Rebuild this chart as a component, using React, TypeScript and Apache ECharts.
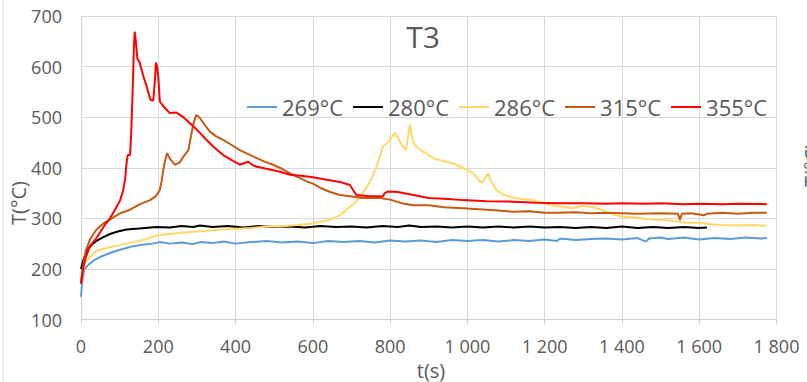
import React, { useEffect, useRef } from "react";
import * as echarts from "echarts";

const seriesNames = ["269°C", "280°C", "286°C", "315°C", "355°C"];
const seriesColors = ["#5b9bd5", "#000000", "#ffd966", "#c55a11", "#ff0000"];

const xTicks = [0, 200, 400, 600, 800, 1000, 1200, 1400, 1600, 1800];
const yTicks = [100, 200, 300, 400, 500, 600, 700];

const s269: number[][] = [
  [0, 145], [3, 175], [8, 198], [15, 205], [22, 210], [35, 218], [48, 223], [70, 230], [92, 236],
  [115, 241], [135, 245], [160, 248], [185, 250], [204, 253], [230, 250], [260, 252], [290, 249],
  [308, 253], [340, 251], [370, 254], [400, 250], [440, 253], [480, 255], [520, 252], [560, 254],
  [600, 251], [640, 255], [680, 253], [720, 255], [760, 252], [800, 256], [840, 254], [880, 256],
  [920, 253], [960, 257], [1000, 255], [1040, 257], [1080, 254], [1120, 257], [1160, 255],
  [1200, 258], [1232, 255], [1240, 260], [1280, 257], [1320, 259], [1360, 260], [1400, 258],
  [1440, 261], [1462, 254], [1470, 260], [1500, 262], [1520, 259], [1560, 262], [1600, 258],
  [1640, 261], [1680, 259], [1720, 262], [1760, 260], [1775, 261],
];

const s280: number[][] = [
  [0, 200], [5, 215], [15, 236], [28, 248], [41, 256], [58, 263], [75, 269], [95, 274], [118, 278],
  [150, 280], [196, 283], [230, 282], [260, 285], [290, 283], [308, 286], [340, 283], [380, 285],
  [420, 282], [460, 285], [500, 283], [540, 284], [580, 282], [620, 285], [660, 283], [700, 284],
  [740, 282], [780, 285], [820, 283], [850, 286], [880, 283], [920, 284], [960, 282], [1000, 284],
  [1040, 282], [1080, 284], [1120, 282], [1160, 284], [1200, 282], [1240, 283], [1280, 281],
  [1320, 283], [1360, 281], [1400, 284], [1440, 281], [1480, 283], [1520, 281], [1560, 283],
  [1600, 281], [1620, 282],
];

const s286: number[][] = [
  [0, 179], [5, 200], [10, 212], [19, 220], [30, 229], [41, 236], [58, 240], [75, 243], [100, 247],
  [135, 253], [165, 258], [196, 266], [230, 269], [265, 272], [300, 274], [350, 277], [394, 279],
  [440, 281], [480, 284], [515, 284], [560, 287], [600, 290], [644, 297], [670, 306], [687, 317],
  [710, 332], [730, 350], [750, 375], [765, 402], [775, 425], [781, 442], [790, 448], [800, 455],
  [812, 469], [820, 460], [830, 445], [841, 435], [846, 460], [851, 485], [856, 465], [860, 449],
  [870, 440], [885, 432], [895, 428], [911, 419], [930, 415], [946, 412], [965, 408], [981, 402],
  [1000, 396], [1015, 389], [1025, 380], [1037, 370], [1046, 380], [1054, 389], [1060, 375],
  [1075, 356], [1095, 346], [1118, 341], [1140, 338], [1170, 336], [1188, 333], [1213, 326],
  [1240, 324], [1273, 320], [1300, 325], [1325, 322], [1345, 318], [1360, 312], [1399, 303],
  [1430, 302], [1460, 299], [1490, 297], [1520, 296], [1558, 292], [1600, 291], [1640, 288],
  [1661, 287], [1700, 286], [1740, 287], [1774, 285],
];

const s315: number[][] = [
  [0, 170], [5, 205], [12, 235], [23, 258], [40, 278], [58, 290], [80, 300], [101, 310], [127, 317],
  [153, 328], [179, 336], [195, 345], [204, 356], [209, 375], [213, 396], [218, 415], [223, 429],
  [230, 418], [243, 406], [255, 410], [265, 422], [278, 435], [286, 468], [292, 490], [298, 504],
  [303, 502], [308, 498], [320, 485], [334, 471], [350, 462], [368, 455], [390, 445], [411, 435],
  [430, 428], [455, 419], [475, 412], [497, 406], [520, 398], [541, 389], [560, 382], [584, 373],
  [601, 368], [620, 360], [645, 352], [670, 346], [700, 343], [730, 340], [774, 340], [800, 337],
  [830, 330], [860, 326], [900, 326], [940, 322], [989, 320], [1030, 318], [1070, 316], [1118, 313],
  [1160, 314], [1200, 311], [1231, 311], [1280, 312], [1320, 310], [1360, 311], [1400, 310],
  [1440, 309], [1500, 310], [1545, 309], [1550, 297], [1555, 309], [1580, 310], [1612, 306],
  [1620, 309], [1660, 311], [1700, 309], [1740, 311], [1775, 311],
];

const s355: number[][] = [
  [0, 172], [5, 200], [12, 222], [23, 245], [41, 262], [60, 285], [75, 300], [88, 317], [101, 335],
  [109, 355], [114, 376], [118, 410], [121, 425], [127, 425], [130, 470], [134, 560], [137, 640],
  [139, 669], [142, 650], [146, 615], [151, 610], [160, 585], [170, 560], [180, 534], [187, 533],
  [191, 570], [194, 608], [197, 600], [200, 580], [204, 531], [215, 520], [230, 508], [247, 509],
  [265, 500], [282, 488], [300, 475], [325, 455], [345, 440], [368, 425], [390, 415], [411, 406],
  [425, 410], [433, 412], [445, 405], [455, 402], [480, 398], [515, 392], [541, 386], [570, 384],
  [600, 381], [640, 376], [670, 372], [696, 366], [705, 355], [713, 346], [740, 344], [781, 343],
  [786, 350], [794, 353], [820, 352], [860, 346], [900, 340], [950, 338], [989, 336], [1050, 334],
  [1118, 333], [1180, 331], [1231, 330], [1300, 330], [1360, 329], [1400, 330], [1460, 329],
  [1500, 330], [1560, 328], [1600, 329], [1660, 328], [1700, 329], [1775, 328],
];

const seriesData = [s269, s280, s286, s315, s355];

const FONT = "Open Sans";
const GRAY = "#595959";
const GRID = "#d9d9d9";

function fmtThousands(v: number): string {
  const s = String(Math.round(v));
  return s.replace(/\B(?=(\d{3})+(?!\d))/g, " ");
}

export default function App() {
  const ref = useRef<HTMLDivElement>(null);
  useEffect(() => {
    if (!ref.current) return;
    const chart = echarts.init(ref.current, undefined, { renderer: "svg" });
    chart.setOption({
      animation: false,
      backgroundColor: "#ffffff",
      grid: { left: 81, right: 30.5, top: 16, bottom: 62.5, containLabel: false },
      legend: {
        data: seriesNames,
        left: 242,
        top: 91,
        icon: "rect",
        itemWidth: 30,
        itemHeight: 2,
        itemGap: 10,
        textStyle: { fontFamily: FONT, fontSize: 22, color: GRAY },
      },
      xAxis: {
        type: "value",
        min: xTicks[0],
        max: xTicks[xTicks.length - 1],
        interval: 200,
        axisLine: { show: true, lineStyle: { color: "#d0d0d0", width: 1 } },
        axisTick: { show: true, length: 5, lineStyle: { color: "#d0d0d0" } },
        axisLabel: {
          margin: 17,
          fontFamily: FONT,
          fontSize: 18,
          color: GRAY,
          formatter: (v: number) => fmtThousands(v),
        },
        splitLine: { show: true, lineStyle: { color: GRID, width: 1 } },
      },
      yAxis: {
        type: "value",
        min: yTicks[0],
        max: yTicks[yTicks.length - 1],
        interval: 100,
        axisLine: { show: true, lineStyle: { color: "#d0d0d0", width: 1 } },
        axisTick: { show: false },
        axisLabel: { margin: 19, fontFamily: FONT, fontSize: 18, color: GRAY },
        splitLine: { show: true, lineStyle: { color: GRID, width: 1 } },
      },
      series: seriesData.map((d, i) => ({
        name: seriesNames[i],
        type: "line",
        data: d,
        symbol: "none",
        showSymbol: false,
        lineStyle: { color: seriesColors[i], width: 2 },
        itemStyle: { color: seriesColors[i] },
        z: 2 + i,
      })),
      graphic: [
        {
          type: "line",
          shape: { x1: 3, y1: 0, x2: 3, y2: 382 },
          style: { stroke: GRID, lineWidth: 1 },
        },
        {
          type: "text",
          x: 423,
          y: 36,
          style: {
            text: "T3",
            fontFamily: FONT,
            fontSize: 30,
            fill: GRAY,
            textAlign: "center",
            textVerticalAlign: "middle",
          },
        },
        {
          type: "text",
          x: 431,
          y: 370,
          style: {
            text: "t(s)",
            fontFamily: FONT,
            fontSize: 20,
            fill: GRAY,
            textAlign: "center",
            textVerticalAlign: "middle",
          },
        },
        {
          type: "text",
          x: 18,
          y: 203,
          rotation: Math.PI / 2,
          style: {
            text: "T(°C)",
            fontFamily: FONT,
            fontSize: 20,
            fill: GRAY,
            textAlign: "center",
            textVerticalAlign: "middle",
          },
        },
        {
          type: "text",
          x: 811,
          y: 165,
          rotation: Math.PI / 2,
          style: {
            text: "T(°C)",
            fontFamily: FONT,
            fontSize: 20,
            fill: GRAY,
            textAlign: "center",
            textVerticalAlign: "middle",
          },
        },
      ],
    });
    return () => chart.dispose();
  }, []);
  return (
    <div
      ref={ref}
      style={{ position: "absolute", left: 0, top: 0, width: 807, height: 382 }}
    />
  );
}
